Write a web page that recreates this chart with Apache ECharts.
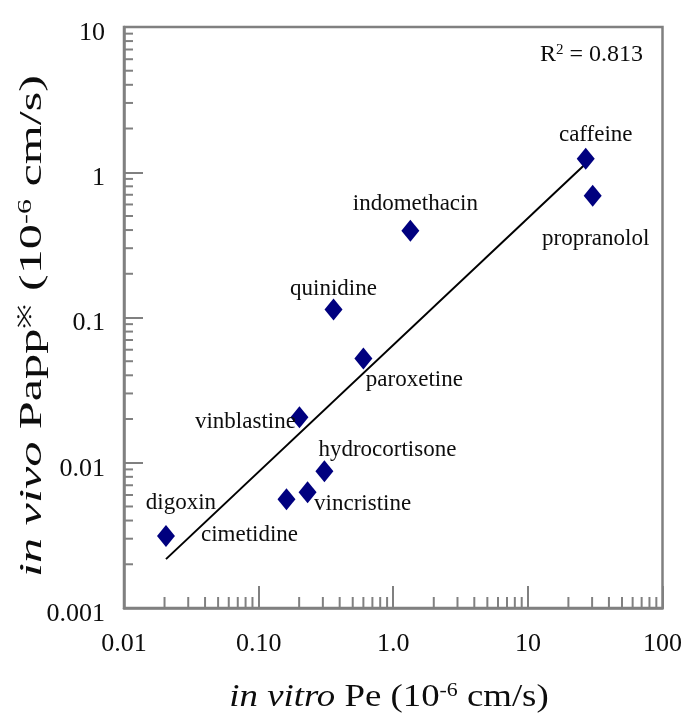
<!DOCTYPE html>
<html>
<head>
<meta charset="utf-8">
<script src="https://cdn.jsdelivr.net/npm/echarts@6/dist/echarts.min.js"></script>
<style>
  html, body { margin: 0; padding: 0; background: #ffffff; }
  #chart { width: 685px; height: 725px; }
</style>
</head>
<body>
<div id="chart"></div>
<script>
// Compounds and their permeability values (10^-6 cm/s)
const compounds = ['digoxin', 'cimetidine', 'vincristine', 'hydrocortisone', 'vinblastine',
                   'paroxetine', 'quinidine', 'indomethacin', 'caffeine', 'propranolol'];
const inVitroPe  = [0.0205, 0.161, 0.231, 0.308, 0.201, 0.600, 0.360, 1.34, 26.9, 30.3];
const inVivoPapp = [0.00313, 0.00561, 0.00627, 0.00874, 0.0206, 0.0523, 0.1135, 0.396, 1.24, 0.689];

// Regression line end points (x, y)
const fitStart = [0.0205, 0.00217];
const fitEnd   = [26.5, 1.13];
const rSquared = '0.813';

// Axis ticks
const xTickValues = [0.01, 0.1, 1, 10, 100];
const xTickLabels = ['0.01', '0.10', '1.0', '10', '100'];
const yTickValues = [0.001, 0.01, 0.1, 1, 10];
const yTickLabels = ['0.001', '0.01', '0.1', '1', '10'];

// Where each compound's name sits relative to its marker (px)
const labelOffsets = {
  digoxin: [15, -33],
  cimetidine: [-37, 36],
  vincristine: [55, 12],
  hydrocortisone: [63, -21],
  vinblastine: [-54, 5],
  paroxetine: [51, 22],
  quinidine: [0, -21],
  indomethacin: [5, -27],
  caffeine: [10, -24],
  propranolol: [3, 43]
};

const SERIF = '"Liberation Serif", "Times New Roman", serif';
const AXIS_GRAY = '#808080';
const INK = '#0d0d0d';

function tickIndex(values, v) {
  return values.findIndex(t => Math.abs(Math.log10(t) - Math.log10(v)) < 1e-6);
}

// Log-decade minor tick positions (2..9 x 10^k) inside an axis range
function minorTicks(minV, maxV) {
  const out = [];
  for (let e = Math.round(Math.log10(minV)); e < Math.round(Math.log10(maxV)); e++) {
    for (let m = 2; m <= 9; m++) out.push(m * Math.pow(10, e));
  }
  return out;
}
const xMin = xTickValues[0], xMax = xTickValues[xTickValues.length - 1];
const yMin = yTickValues[0], yMax = yTickValues[yTickValues.length - 1];

const scatterData = compounds.map((name, i) => ({
  name: name,
  value: [inVitroPe[i], inVivoPapp[i]],
  label: { offset: labelOffsets[name] }
}));

const chart = echarts.init(document.getElementById('chart'), null, { renderer: 'canvas' });

chart.setOption({
  animation: false,
  backgroundColor: '#ffffff',
  grid: {
    left: 124, right: 21, top: 27, bottom: 117,
    show: true, borderColor: AXIS_GRAY, borderWidth: 2.5, backgroundColor: 'transparent'
  },
  xAxis: {
    type: 'log', logBase: 10, min: xMin, max: xMax, splitNumber: 4,
    axisLine: { show: true, lineStyle: { color: AXIS_GRAY, width: 2.5 } },
    axisTick: { show: true, inside: true, length: 22, lineStyle: { color: AXIS_GRAY, width: 2 } },
    splitLine: { show: false },
    axisLabel: {
      formatter: function (v) { const i = tickIndex(xTickValues, v); return i >= 0 ? xTickLabels[i] : ''; },
      fontFamily: SERIF, fontSize: 26, color: INK, margin: 23
    }
  },
  yAxis: {
    type: 'log', logBase: 10, min: yMin, max: yMax, splitNumber: 4,
    axisLine: { show: true, lineStyle: { color: AXIS_GRAY, width: 2.5 } },
    axisTick: { show: true, inside: true, length: 19, lineStyle: { color: AXIS_GRAY, width: 2 } },
    splitLine: { show: false },
    axisLabel: {
      formatter: function (v) { const i = tickIndex(yTickValues, v); return i >= 0 ? '{v|' + yTickLabels[i] + '}' : ''; },
      fontFamily: SERIF, fontSize: 26, color: INK, margin: 19,
      rich: { v: { fontFamily: SERIF, fontSize: 26, color: INK, padding: [12, 0, 0, 0] } }
    }
  },
  series: [
    {
      // minor ticks along the bottom axis
      type: 'custom', silent: true, z: 1,
      data: minorTicks(xMin, xMax).map(v => [v, yMin]),
      renderItem: function (params, api) {
        const p = api.coord([api.value(0), api.value(1)]);
        return { type: 'line', shape: { x1: p[0], y1: p[1], x2: p[0], y2: p[1] - 11 },
                 style: { stroke: AXIS_GRAY, lineWidth: 2 } };
      }
    },
    {
      // minor ticks along the left axis
      type: 'custom', silent: true, z: 1,
      data: minorTicks(yMin, yMax).map(v => [xMin, v]),
      renderItem: function (params, api) {
        const p = api.coord([api.value(0), api.value(1)]);
        return { type: 'line', shape: { x1: p[0], y1: p[1], x2: p[0] + 9, y2: p[1] },
                 style: { stroke: AXIS_GRAY, lineWidth: 2 } };
      }
    },
    {
      type: 'line', z: 2, silent: true,
      data: [fitStart, fitEnd],
      symbol: 'none',
      lineStyle: { color: '#000000', width: 2 }
    },
    {
      type: 'scatter', z: 3,
      data: scatterData,
      symbol: 'diamond', symbolSize: [18, 22],
      itemStyle: { color: '#00007f', opacity: 1 },
      label: {
        show: true, position: 'inside', formatter: '{b}',
        fontFamily: SERIF, fontSize: 23, color: INK
      }
    }
  ],
  graphic: [
    {
      type: 'text', x: 389, y: 698, scaleX: 1.15,
      style: {
        text: '{i|in vitro} Pe (10{s|-6} cm/s)',
        align: 'center', verticalAlign: 'middle',
        fontFamily: SERIF, fontSize: 32, fill: INK,
        rich: {
          i: { fontFamily: SERIF, fontSize: 32, fontStyle: 'italic', fill: INK },
          s: { fontFamily: SERIF, fontSize: 19, verticalAlign: 'top', fill: INK }
        }
      }
    },
    {
      type: 'text', x: 33, y: 326, rotation: Math.PI / 2, scaleX: 1.57,
      style: {
        text: '{i|in vivo} Papp{s|※} (10{s|-6} cm/s)',
        align: 'center', verticalAlign: 'middle',
        fontFamily: SERIF, fontSize: 32, fill: INK,
        rich: {
          i: { fontFamily: SERIF, fontSize: 32, fontStyle: 'italic', fill: INK },
          s: { fontFamily: SERIF, fontSize: 19, verticalAlign: 'top', fill: INK }
        }
      }
    },
    {
      type: 'text', x: 540, y: 55,
      style: {
        text: '{n|R}{s|2}{n| = ' + rSquared + '}',
        align: 'left', verticalAlign: 'middle',
        fontFamily: SERIF, fontSize: 24, fill: INK,
        rich: {
          n: { fontFamily: SERIF, fontSize: 24, fill: INK },
          s: { fontFamily: SERIF, fontSize: 15, verticalAlign: 'top', fill: INK }
        }
      }
    }
  ]
});
</script>
</body>
</html>
